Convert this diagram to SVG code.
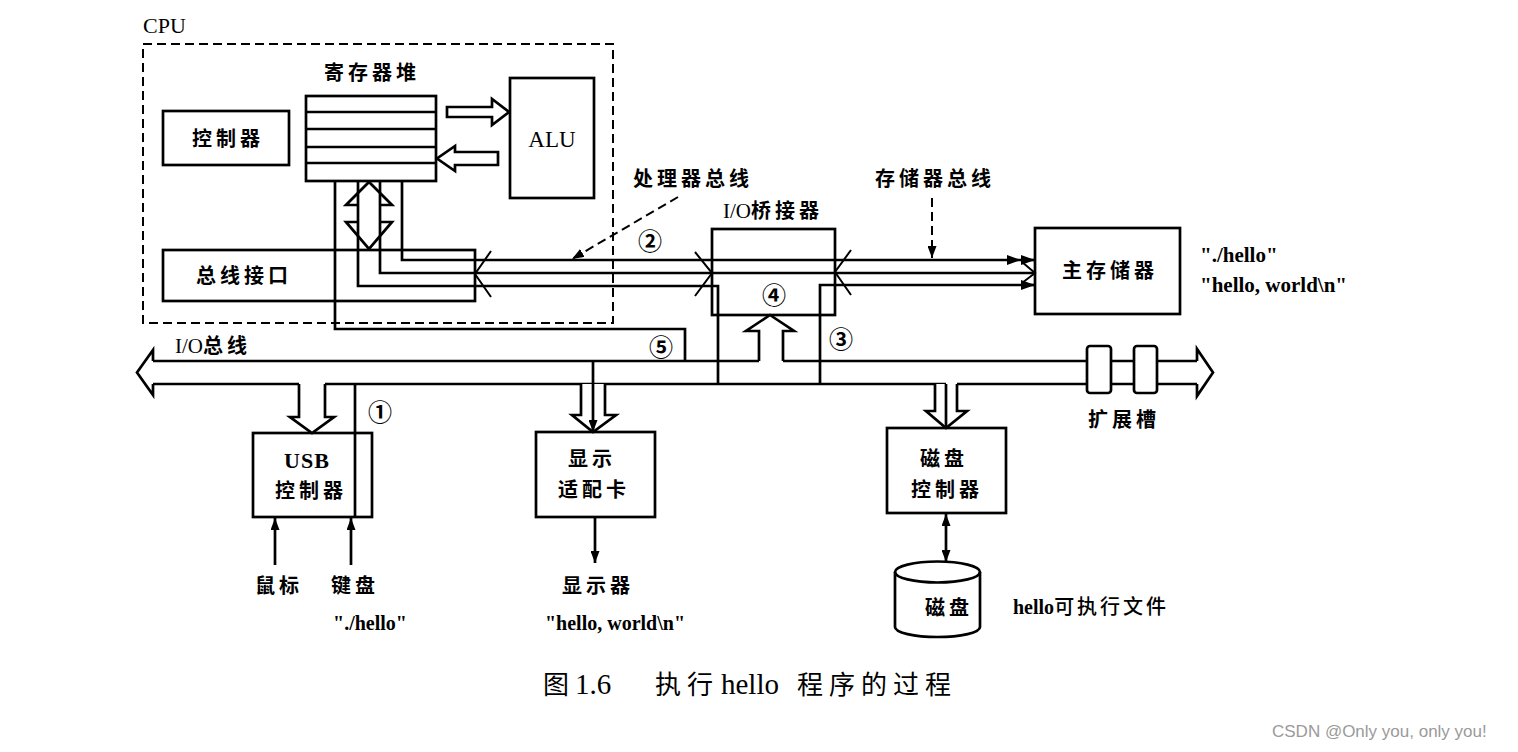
<svg xmlns="http://www.w3.org/2000/svg" width="1518" height="752" viewBox="0 0 1518 752">
<style>
.ln{stroke:#000;stroke-width:2.7;fill:none}
.thin{stroke:#000;stroke-width:2;fill:none}
.box{stroke:#000;stroke-width:2.7;fill:#fff}
.hol{stroke:#000;stroke-width:2.7;fill:#fff;stroke-linejoin:miter}
.dash{stroke:#000;stroke-width:2;fill:none;stroke-dasharray:9 5}
.cn{font-family:"Noto Sans CJK SC",sans-serif;font-weight:700;font-size:20px;letter-spacing:4px;fill:#000}
.en{font-family:"Liberation Serif","Noto Sans CJK SC",serif;font-size:21px;fill:#000}
.enb{font-family:"Liberation Serif","Noto Sans CJK SC",serif;font-size:21px;font-weight:700;fill:#000}
.num{font-family:"Noto Sans CJK SC",sans-serif;font-size:24px;font-weight:700;fill:#000}
.mid{text-anchor:middle}
.cap{font-family:"Liberation Serif","Noto Sans CJK SC",serif;font-size:26px;fill:#000}
.wm{font-family:"Liberation Sans",sans-serif;font-size:17px;fill:#9a9a9a}
</style>
<defs>
<marker id="ah" viewBox="0 0 14 10" refX="14" refY="5" markerWidth="14" markerHeight="10" markerUnits="userSpaceOnUse" orient="auto-start-reverse">
<path d="M0,0 L14,5 L0,10 Z" fill="#000"/>
</marker>
<marker id="ahs" viewBox="0 0 12 9" refX="12" refY="4.5" markerWidth="12" markerHeight="9" markerUnits="userSpaceOnUse" orient="auto-start-reverse">
<path d="M0,0 L12,4.5 L0,9 Z" fill="#000"/>
</marker>
</defs>
<rect width="1518" height="752" fill="#fff"/>

<g id="cpu">
<rect x="143" y="44" width="470" height="279" class="dash"/>
<text x="143" y="33" class="en" style="font-size:22px">CPU</text>
</g>

<g id="control">
<rect x="163" y="111" width="126" height="54" class="box"/>
<text x="228" y="146" class="cn mid">控制器</text>
</g>

<g id="alu">
<rect x="510" y="78" width="84" height="120" class="box"/>
<text x="552" y="147" class="en mid" style="font-size:23px">ALU</text>
</g>

<g id="businterface">
<rect x="163" y="250" width="312" height="51" class="box"/>
<text x="244" y="283" class="cn mid">总线接口</text>
</g>

<g id="regfile">
<text x="372" y="80" class="cn mid">寄存器堆</text>
<rect x="306" y="96" width="130" height="85" class="box"/>
<path d="M306,112 H436 M306,129 H436 M306,147 H436 M306,163 H436" class="ln"/>
</g>

<g id="iobridge">
<text x="723" y="218"><tspan class="en">I/O</tspan><tspan class="cn">桥接器</tspan></text>
<rect x="712" y="229" width="123" height="86" class="box"/>
<text x="774" y="304" class="num mid">④</text>
</g>

<g id="mainmem">
<rect x="1035" y="228" width="145" height="86" class="box"/>
<text x="1110" y="278" class="cn mid">主存储器</text>
<text x="1200" y="262" class="enb">"./hello"</text>
<text x="1200" y="292" class="enb">"hello, world\n"</text>
</g>

<g id="usb">
<rect x="253" y="433" width="119" height="84" class="box"/>
<text x="307" y="468" class="enb mid" style="letter-spacing:1px;font-size:22px">USB</text>
<text x="311" y="498" class="cn mid">控制器</text>
</g>

<g id="display">
<rect x="536" y="432" width="119" height="85" class="box"/>
<text x="592" y="466" class="cn mid">显示</text>
<text x="594" y="497" class="cn mid">适配卡</text>
</g>

<g id="diskctrl">
<rect x="887" y="428" width="119" height="85" class="box"/>
<text x="944" y="466" class="cn mid">磁盘</text>
<text x="947" y="497" class="cn mid">控制器</text>
</g>

<g id="disk">
<path d="M895,572 A42.5,10.5 0 0 1 980,572 L980,627 A42.5,10 0 0 1 895,627 Z" class="box"/>
<path d="M895,572 A42.5,10.5 0 0 0 980,572" class="ln"/>
<text x="949" y="615" class="cn mid">磁盘</text>
<text x="1013" y="614"><tspan class="enb" style="font-size:20px">hello</tspan><tspan class="cn" style="letter-spacing:3px;font-weight:500">可执行文件</tspan></text>
</g>

<g id="iobus">
<path d="M153,361 V350 L137,372.5 L153,395 V384" class="ln"/>
<path d="M1197,361 V349 L1213,372.5 L1197,396 V384" class="ln"/>
<path d="M153,361 H759 M783,361 H1087 M1111,361 H1134 M1157,361 H1197" class="ln"/>
<path d="M153,384 H299 M325,384 H946 M957,384 H1087 M1111,384 H1134 M1157,384 H1197" class="ln"/>
<text x="175" y="353"><tspan class="en">I/O</tspan><tspan class="cn">总线</tspan></text>
</g>

<g id="slots">
<rect x="1087" y="346" width="24" height="47" rx="3" class="box"/>
<rect x="1134" y="346" width="23" height="47" rx="3" class="box"/>
<text x="1124" y="427" class="cn mid">扩展槽</text>
</g>

<g id="connectors">
<path d="M447,107 H492 V99 L509,112 L492,125 V117 H447 Z" class="hol"/>
<path d="M498,152 H455 V146 L437,158.5 L455,171 V165 H498 Z" class="hol"/>
<path d="M358,205 H346 L369,182 L392,205 H380 M358,222 H346 L369,249 L392,222 H380" class="ln"/>
<path d="M402,181 V260 H1021" class="ln" marker-end="url(#ah)"/>
<path d="M380,181 V273 H1035" class="ln"/>
<path d="M358,181 V286 H718 V384" class="ln"/>
<path d="M1021,285 H820 V384" class="ln"/>
<path d="M1021,285 H1035" class="ln" marker-end="url(#ah)"/>
<path d="M1021,260 H1035" class="ln" marker-end="url(#ah)"/>
<path d="M1022,262 L1035,273 L1022,283" class="thin"/>
<path d="M335,181 V329 H685 V361" class="ln"/>
<path d="M491,251 L475,274 L491,297" class="thin"/>
<path d="M695,252 L712,273 L695,296" class="thin"/>
<path d="M851,250 L835,272 L851,295" class="thin"/>
<path d="M759,361 V331 H746 L770,315 L794,331 H783 V361" class="hol"/>
<path d="M299,384 V417 H290 L312,433 L334,417 H325 V384" class="hol"/>
<path d="M355,384 V517" class="ln"/>
<path d="M581,384 V415 H572 L593,432 L616,415 H605 V384" class="hol"/>
<path d="M593,361 V432" class="ln" marker-end="url(#ahs)"/>
<path d="M935,384 V411 H926 L946,428 L967,411 H957 V384" class="hol"/>
<path d="M946,384 V428" class="ln"/>
<path d="M275,565 V518" class="ln" marker-end="url(#ahs)"/>
<path d="M351,565 V518" class="ln" marker-end="url(#ahs)"/>
<path d="M595,517 V563" class="ln" marker-end="url(#ahs)"/>
<path d="M946,514 V562" class="ln" marker-start="url(#ahs)" marker-end="url(#ahs)"/>
<path d="M678,197 L572,259" class="dash" marker-end="url(#ahs)"/>
<path d="M932,198 V258" class="dash" marker-end="url(#ahs)"/>
</g>

<g id="labels">
<text x="693" y="186" class="cn mid">处理器总线</text>
<text x="935" y="186" class="cn mid">存储器总线</text>
<text x="650" y="250" class="num mid">②</text>
<text x="841" y="348" class="num mid">③</text>
<text x="661" y="356" class="num mid">⑤</text>
<text x="380" y="421" class="num mid">①</text>
<text x="279" y="593" class="cn mid">鼠标</text>
<text x="355" y="593" class="cn mid">键盘</text>
<text x="370" y="630" class="enb mid" style="font-size:20px">"./hello"</text>
<text x="598" y="593" class="cn mid">显示器</text>
<text x="615" y="630" class="enb mid" style="font-size:20px">"hello, world\n"</text>
</g>

<text class="cap" y="694"><tspan x="543">图</tspan><tspan x="575" style="font-size:29px">1.6</tspan><tspan x="655" style="letter-spacing:6px">执行</tspan><tspan x="721" style="font-size:29px">hello</tspan><tspan x="797" style="letter-spacing:6px">程序的过程</tspan></text>
<text x="1272" y="737" class="wm">CSDN @Only you, only you!</text>
</svg>
